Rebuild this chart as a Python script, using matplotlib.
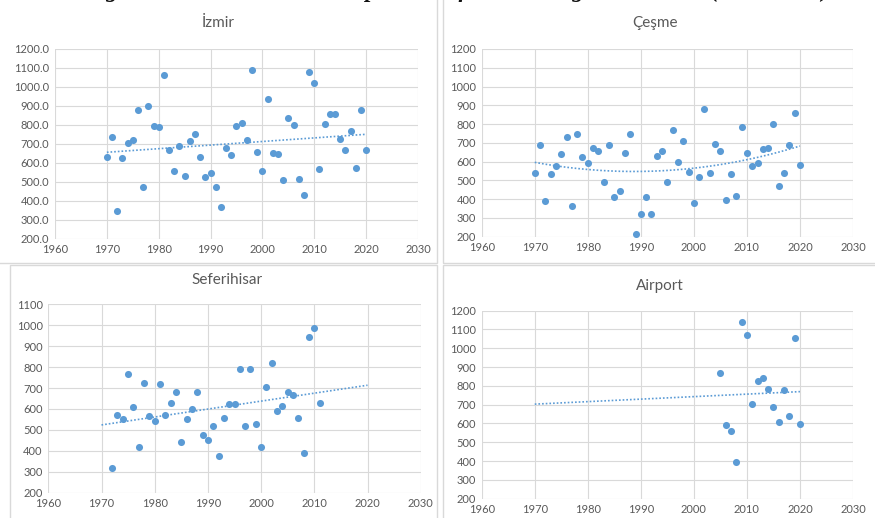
import numpy as np
import matplotlib
matplotlib.use("Agg")
import matplotlib.pyplot as plt
from matplotlib.patches import Rectangle

plt.rcParams['font.family'] = ['Lato', 'DejaVu Sans']

# data
izmir_years = list(range(1970, 2021))
izmir_vals = [632, 734, 345, 628, 705, 718, 878, 473, 901, 795, 787, 1065, 668, 555, 690,
              532, 713, 750, 632, 523, 546, 470, 365, 677, 641, 796, 808, 718, 1091, 658,
              559, 936, 654, 645, 509, 838, 801, 514, 432, 1077, 1022, 568, 804, 858, 858,
              727, 668, 768, 572, 878, 668]

cesme_years = list(range(1970, 2021))
cesme_vals = [537, 686, 392, 533, 577, 641, 732, 364, 746, 627, 594, 672, 655, 491, 687,
              413, 446, 645, 746, 213, 323, 409, 320, 628, 655, 493, 769, 597, 710, 546,
              382, 519, 878, 537, 692, 655, 397, 533, 415, 783, 646, 578, 590, 669, 673,
              801, 470, 537, 687, 861, 583]

sef_years = list(range(1972, 2012))
sef_vals = [320, 572, 552, 765, 610, 418, 724, 568, 541, 720, 572, 630, 683, 443, 552,
            601, 683, 475, 450, 520, 377, 557, 625, 625, 790, 520, 790, 528, 418, 707,
            818, 590, 614, 680, 665, 557, 390, 945, 985, 630]

air_years = list(range(2005, 2021))
air_vals = [870, 590, 562, 395, 1140, 1071, 704, 826, 844, 783, 689, 606, 778, 640, 1056, 599]

blue = '#5B9BD5'
grid_c = '#D9D9D9'
txt_c = '#595959'

fig = plt.figure(figsize=(8.75, 5.18), dpi=100)

# caption of the paper, cut off at the top (only descenders show)
fig.text(830 / 875, 1 + 3 / 518,
         'Figure 3. Total Annual Precipitation of Meteorological Stations (1970-2020)',
         family='Liberation Serif', fontsize=17, fontweight='bold', fontstyle='italic',
         ha='right', va='baseline', color='#111111')

# panel frames (excel chart areas)
for (x0, y0, x1, y1) in [(-2, -20, 437, 263), (443, -20, 877, 263),
                         (10, 265, 437, 530), (443, 265, 877, 530)]:
    fig.patches.append(Rectangle((x0 / 875, 1 - y1 / 518), (x1 - x0) / 875, (y1 - y0) / 518,
                                 transform=fig.transFigure, fill=False,
                                 edgecolor=grid_c, linewidth=1.0))

panels = [
    ('İzmir', izmir_years, izmir_vals, 1, [55, 49, 418, 238.7], (200, 1200), 100, '{:.1f}', (218, 23)),
    ('Çeşme', cesme_years, cesme_vals, 2, [481.7, 49, 853, 236.7], (200, 1200), 100, '{:.0f}', (655, 23)),
    ('Seferihisar', sef_years, sef_vals, 1, [48.3, 304.3, 420.7, 492.7], (200, 1100), 100, '{:.0f}', (227, 280)),
    ('Airport', air_years, air_vals, 1, [481.7, 310.7, 853, 498.7], (200, 1200), 100, '{:.0f}', (660, 286)),
]

for title, yrs, vals, deg, box, ylim, ystep, fmt, tpos in panels:
    l, t, r, b = box
    ax = fig.add_axes([l / 875, 1 - b / 518, (r - l) / 875, (b - t) / 518])
    x = np.array(yrs)
    y = np.array(vals)
    coef = np.polyfit(x, y, deg)
    xt = np.linspace(1970, 2020, 200)
    ax.plot(xt, np.polyval(coef, xt), linestyle=(0, (1, 1.2)), color=blue, linewidth=1.2, zorder=2)
    ax.scatter(x, y, s=26, color=blue, zorder=3, linewidths=0)
    ax.set_xlim(1960, 2030)
    ax.set_ylim(*ylim)
    ax.set_xticks(range(1960, 2031, 10))
    yt = np.arange(ylim[0], ylim[1] + 1, ystep)
    ax.set_yticks(yt)
    ax.set_yticklabels([fmt.format(v) for v in yt])
    ax.grid(True, color=grid_c, linewidth=0.8)
    ax.set_axisbelow(True)
    for s in ax.spines.values():
        s.set_visible(False)
    ax.tick_params(length=0, labelsize=8, colors=txt_c, pad=4)
    fig.text(tpos[0] / 875, 1 - tpos[1] / 518, title, ha='center', va='center',
             fontsize=11, color=txt_c)

fig.savefig('out.png', dpi=100)
